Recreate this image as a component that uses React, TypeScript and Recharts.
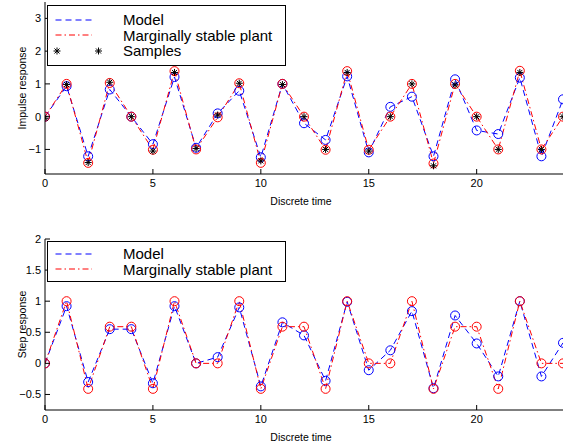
import React from 'react';
import { LineChart, Line, XAxis, YAxis } from 'recharts';

const time = [0, 1, 2, 3, 4, 5, 6, 7, 8, 9, 10, 11, 12, 13, 14, 15, 16, 17, 18, 19, 20, 21, 22, 23, 24];

const impulseModel = [0, 0.93, -1.21, 0.83, 0, -0.84, 1.21, -0.95, 0.1, 0.79, -1.24, 1.0, -0.2, -0.71, 1.23, -1.09, 0.3, 0.61, -1.21, 1.14, -0.42, -0.53, 1.19, -1.21, 0.53];
const impulsePlant = [0, 1.0, -1.41, 1.03, 0, -1.01, 1.39, -1.0, -0.02, 1.02, -1.41, 1.0, 0, -1.01, 1.39, -1.01, 0, 1.0, -1.43, 1.0, 0, -1.0, 1.4, -1.0, 0];
const impulseSamples = [-0.05, 0.98, -1.4, 1.05, 0, -1.05, 1.35, -0.97, 0.05, 1.02, -1.35, 0.98, 0, -1.0, 1.35, -1.05, 0, 1.0, -1.5, 0.97, 0, -1.0, 1.35, -1.0, 0];

const stepModel = [0, 0.92, -0.3, 0.55, 0.55, -0.32, 0.92, 0, 0.1, 0.9, -0.37, 0.66, 0.45, -0.28, 0.99, -0.11, 0.21, 0.84, -0.4, 0.77, 0.32, -0.21, 1.0, -0.21, 0.33];
const stepPlant = [0, 1.0, -0.41, 0.59, 0.59, -0.41, 1.0, 0, 0, 1.0, -0.41, 0.59, 0.59, -0.41, 1.0, 0, 0, 1.0, -0.41, 0.59, 0.59, -0.41, 1.0, 0, 0];

const xTicks = [0, 5, 10, 15, 20];
const impulseTicks = [-1, 0, 1, 2, 3];
const stepTicks = [-0.5, 0, 0.5, 1, 1.5, 2];

const impulseData = time.map((t, i) => ({ t, model: impulseModel[i], plant: impulsePlant[i], samples: impulseSamples[i] }));
const stepData = time.map((t, i) => ({ t, model: stepModel[i], plant: stepPlant[i] }));

const FONT = '"Liberation Sans", Arial, Helvetica, sans-serif';
const BLUE = '#0000ff';
const RED = '#ff0000';
const MODEL_DASH = '6 4';
const PLANT_DASH = '6 3 1.5 3';

const fmt = (v: number) => (v < 0 ? '\u2212' + String(-v) : String(v));

const BottomTick = (props: any) => {
  const { x, y, payload } = props;
  return (
    <g>
      <line x1={x} x2={x} y1={y - 5} y2={y - 10} stroke="#000" />
      <text x={x} y={y} dy="0.71em" textAnchor="middle" fontSize={11} fontFamily={FONT} fill="#000">
        {fmt(payload.value)}
      </text>
    </g>
  );
};

const TopTick = (props: any) => {
  const { x, y } = props;
  return <line x1={x} x2={x} y1={y} y2={y + 5} stroke="#000" />;
};

const LeftTick = (props: any) => {
  const { x, y, payload } = props;
  return (
    <g>
      <line x1={x + 4} x2={x + 9} y1={y} y2={y} stroke="#000" />
      <text x={x} y={y} dy="0.35em" textAnchor="end" fontSize={11} fontFamily={FONT} fill="#000">
        {fmt(payload.value)}
      </text>
    </g>
  );
};

const RightTick = (props: any) => {
  const { x, y } = props;
  return <line x1={x} x2={x - 5} y1={y} y2={y} stroke="#000" />;
};

const YTitle = (props: any) => {
  const { viewBox, text, x } = props;
  const cy = viewBox.y + viewBox.height / 2;
  return (
    <text x={x} y={cy} transform={`rotate(-90 ${x} ${cy})`} textAnchor="middle" dy="0.35em" fontSize={10.5} fontFamily={FONT} fill="#000">
      {text}
    </text>
  );
};

const circleDot = (color: string) => (p: any) => {
  if (p.cx == null || p.cy == null) return <g key={p.index} />;
  return <circle key={p.index} cx={p.cx} cy={p.cy} r={4.5} fill="none" stroke={color} strokeWidth={1} />;
};

const Star = ({ cx, cy, s = 3.5 }: { cx: number; cy: number; s?: number }) => {
  const d = s * 0.72;
  return (
    <g stroke="#000" strokeWidth={1}>
      <line x1={cx - s} x2={cx + s} y1={cy} y2={cy} />
      <line x1={cx} x2={cx} y1={cy - s} y2={cy + s} />
      <line x1={cx - d} x2={cx + d} y1={cy - d} y2={cy + d} />
      <line x1={cx - d} x2={cx + d} y1={cy + d} y2={cy - d} />
    </g>
  );
};

const starDot = (p: any) => {
  if (p.cx == null || p.cy == null) return <g key={p.index} />;
  return (
    <g key={p.index}>
      <Star cx={p.cx} cy={p.cy} />
    </g>
  );
};

const LegendRow = ({ kind, label }: { kind: 'model' | 'plant' | 'samples'; label: string }) => (
  <div style={{ display: 'flex', alignItems: 'center', height: 15.5 }}>
    <svg width={75} height={14} style={{ display: 'block', flex: 'none' }}>
      {kind === 'model' && <line x1={7.5} x2={44} y1={7} y2={7} stroke={BLUE} strokeDasharray={MODEL_DASH} />}
      {kind === 'plant' && <line x1={7.5} x2={44} y1={7} y2={7} stroke={RED} strokeDasharray={PLANT_DASH} />}
      {kind === 'samples' && (
        <>
          <Star cx={9} cy={7} />
          <Star cx={50.5} cy={7} />
        </>
      )}
    </svg>
    <span style={{ fontSize: 15, lineHeight: '15px', fontFamily: FONT, color: '#000', whiteSpace: 'nowrap' }}>{label}</span>
  </div>
);

const Legend = ({ top, pad, rows }: { top: number; pad: number; rows: { kind: 'model' | 'plant' | 'samples'; label: string }[] }) => (
  <div
    style={{
      position: 'absolute',
      left: 47,
      top,
      width: 239,
      background: '#fff',
      border: '1.5px solid #000',
      padding: `${pad}px 0`,
      boxSizing: 'border-box',
    }}
  >
    {rows.map((r) => (
      <LegendRow key={r.label} kind={r.kind} label={r.label} />
    ))}
  </div>
);

const Panel = ({ data, domain, ticks, title, titleX, top, height, marginTop, samples }: any) => (
  <div style={{ position: 'absolute', left: 0, top, width: 566, height }}>
    <LineChart width={566} height={height} data={data} margin={{ top: marginTop, right: 3, left: 0, bottom: 0 }}>
      <XAxis
        dataKey="t"
        type="number"
        domain={[0, 24]}
        ticks={xTicks}
        allowDataOverflow
        height={36}
        tickSize={0}
        tickMargin={5}
        tick={<BottomTick />}
        axisLine={{ stroke: '#000' }}
        label={{ value: 'Discrete time', position: 'insideBottom', offset: 5, dx: -3, fontSize: 10.5, fontFamily: FONT, fill: '#000' }}
      />
      <XAxis
        xAxisId="top"
        dataKey="t"
        type="number"
        orientation="top"
        domain={[0, 24]}
        ticks={xTicks}
        allowDataOverflow
        height={0}
        tickSize={0}
        tickMargin={0}
        tick={<TopTick />}
        axisLine={{ stroke: '#000' }}
      />
      <YAxis
        type="number"
        domain={domain}
        ticks={ticks}
        allowDataOverflow
        width={45}
        tickSize={0}
        tickMargin={4}
        tick={<LeftTick />}
        axisLine={{ stroke: '#000' }}
        label={<YTitle text={title} x={titleX} />}
      />
      <YAxis
        yAxisId="right"
        type="number"
        orientation="right"
        domain={domain}
        ticks={ticks}
        allowDataOverflow
        width={0}
        tickSize={0}
        tickMargin={0}
        tick={<RightTick />}
        axisLine={{ stroke: '#000' }}
      />
      <Line
        dataKey="model"
        stroke={BLUE}
        strokeWidth={1}
        strokeDasharray={MODEL_DASH}
        dot={circleDot(BLUE)}
        activeDot={false}
        isAnimationActive={false}
      />
      <Line
        dataKey="plant"
        stroke={RED}
        strokeWidth={1}
        strokeDasharray={PLANT_DASH}
        dot={circleDot(RED)}
        activeDot={false}
        isAnimationActive={false}
      />
      {samples && (
        <Line dataKey="samples" stroke="none" dot={starDot} activeDot={false} isAnimationActive={false} />
      )}
    </LineChart>
  </div>
);

export default function App() {
  return (
    <div style={{ position: 'absolute', left: 0, top: 0, width: 566, height: 447, background: '#fff' }}>
      <Panel
        data={impulseData}
        domain={[-1.75, 3.5]}
        ticks={impulseTicks}
        title="Impulse response"
        titleX={19}
        top={0}
        height={210}
        marginTop={2}
        samples
      />
      <Panel
        data={stepData}
        domain={[-0.75, 2]}
        ticks={stepTicks}
        title="Step response"
        titleX={10}
        top={230}
        height={216}
        marginTop={9}
        samples={false}
      />
      <Legend
        top={5}
        pad={6}
        rows={[
          { kind: 'model', label: 'Model' },
          { kind: 'plant', label: 'Marginally stable plant' },
          { kind: 'samples', label: 'Samples' },
        ]}
      />
      <Legend
        top={241}
        pad={4}
        rows={[
          { kind: 'model', label: 'Model' },
          { kind: 'plant', label: 'Marginally stable plant' },
        ]}
      />
    </div>
  );
}
